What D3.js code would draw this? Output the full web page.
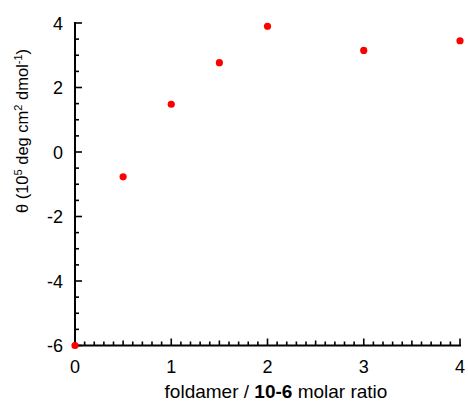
<!DOCTYPE html>
<html><head><meta charset="utf-8">
<script src="https://cdn.jsdelivr.net/npm/d3@7"></script>
<style>body{margin:0;background:#fff}svg{display:block}text{font-family:"Liberation Sans",Arial,sans-serif;fill:#000}</style>
</head><body><svg id="c" width="468" height="405"></svg>
<script>
const ratios = [0, 0.5, 1, 1.5, 2, 3, 4];
const theta = [-6, -0.77, 1.48, 2.77, 3.9, 3.15, 3.45];
const xTicks = [0, 1, 2, 3, 4];
const yTicks = [-6, -4, -2, 0, 2, 4];

const svg = d3.select("#c");
const x = d3.scaleLinear().domain([0, 4]).range([75, 460]);
const y = d3.scaleLinear().domain([-6, 4]).range([345.5, 23]);

// minor ticks
const xMinor = d3.range(0, 41).map(i => i / 10);
const yMinor = d3.range(-12, 9).map(i => i / 2);
const g = svg.append("g").attr("stroke", "#000").attr("stroke-width", 1.6);
g.selectAll(".xm").data(xMinor).join("line")
  .attr("x1", d => x(d)).attr("x2", d => x(d))
  .attr("y1", y(-6)).attr("y2", d => y(-6) - (Math.abs(d - Math.round(d)) < 1e-9 ? 7 : (Math.abs(d*2 - Math.round(d*2)) < 1e-9 ? 5 : 4)));
g.selectAll(".ym").data(yMinor).join("line")
  .attr("y1", d => y(d)).attr("y2", d => y(d))
  .attr("x1", x(0)).attr("x2", d => x(0) + (d % 2 === 0 ? 7 : 4));
// axis lines
svg.append("line").attr("x1", x(0)).attr("x2", x(0)).attr("y1", y(4) - 1).attr("y2", y(-6) + 1)
  .attr("stroke", "#000").attr("stroke-width", 2);
svg.append("line").attr("x1", x(0) - 1).attr("x2", x(4) + 1).attr("y1", y(-6)).attr("y2", y(-6))
  .attr("stroke", "#000").attr("stroke-width", 2);

// tick labels
svg.selectAll(".xl").data(xTicks).join("text")
  .attr("x", d => x(d)).attr("y", 373).attr("text-anchor", "middle")
  .attr("font-size", 18).text(d => d);
svg.selectAll(".yl").data(yTicks).join("text")
  .attr("x", 63).attr("y", d => y(d) + 6.5).attr("text-anchor", "end")
  .attr("font-size", 18).text(d => d);

// x title
const xt = svg.append("text").attr("x", 276).attr("y", 398)
  .attr("text-anchor", "middle").attr("font-size", 19);
xt.append("tspan").text("foldamer / ");
xt.append("tspan").attr("font-weight", "bold").text("10-6");
xt.append("tspan").text(" molar ratio");

// y title
const yt = svg.append("text").attr("transform", `translate(28,131) rotate(-90)`)
  .attr("text-anchor", "middle").attr("font-size", 16.5);
yt.append("tspan").text("θ (10");
yt.append("tspan").attr("font-size", 11).attr("dy", -6).text("5");
yt.append("tspan").attr("dy", 6).text(" deg cm");
yt.append("tspan").attr("font-size", 11).attr("dy", -6).text("2");
yt.append("tspan").attr("dy", 6).text(" dmol");
yt.append("tspan").attr("font-size", 11).attr("dy", -6).text("-1");
yt.append("tspan").attr("dy", 6).text(")");

// points
svg.selectAll(".pt").data(ratios).join("circle")
  .attr("cx", d => x(d)).attr("cy", (d, i) => y(theta[i])).attr("r", 3.6).attr("fill", "#ff0000");
</script></body></html>
